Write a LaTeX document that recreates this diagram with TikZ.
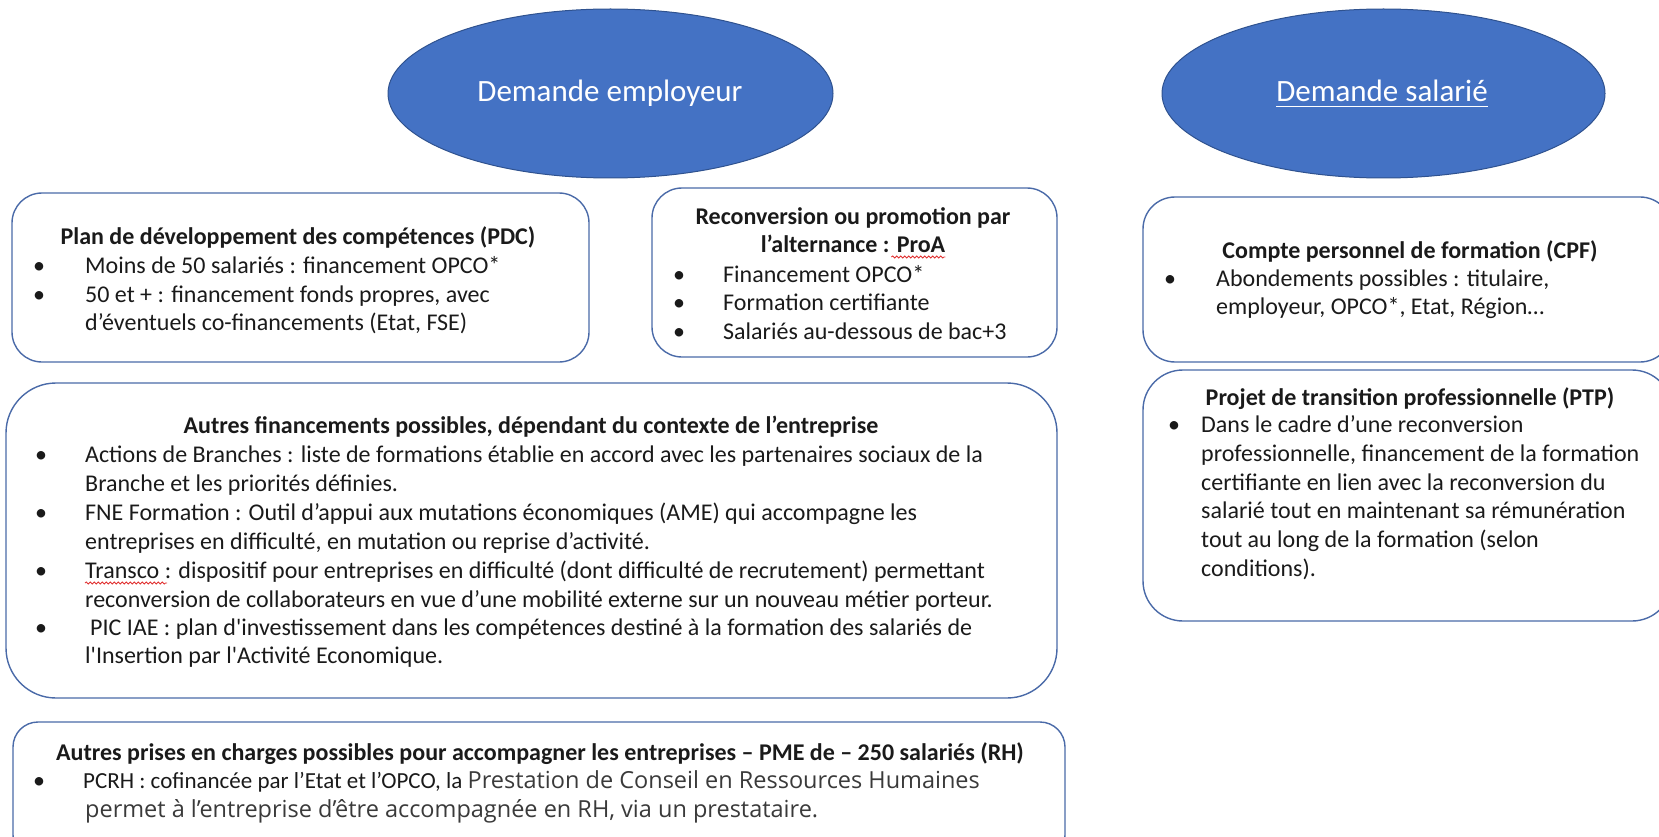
\documentclass[tikz,border=0pt]{standalone}
\usepackage{fontspec}
\usepackage{tikz}
\usetikzlibrary{shapes.geometric,decorations.pathmorphing}
\newfontfamily\calibri{Carlito}
\newfontfamily\segoe{Open Sans}
\definecolor{bleu}{HTML}{4472C4}
\definecolor{bleufonce}{HTML}{2F528F}
\definecolor{bord}{HTML}{4A6AA8}
\definecolor{texte}{HTML}{1A1A1A}
\definecolor{gris}{HTML}{3A3A3A}
\definecolor{souligne}{HTML}{E03030}
\tikzset{
  bulle/.style={ellipse, fill=bleu, draw=bleufonce, line width=1pt, inner sep=0pt},
  cadre/.style={draw=bord, line width=1.4pt, inner sep=0pt},
  etiquette/.style={font=\calibri\fontsize{31}{36}\selectfont, text=white, anchor=base, inner sep=0pt},
  titre/.style={font=\calibri\bfseries\fontsize{24}{29}\selectfont, text=texte, anchor=base, inner sep=0pt},
  ligne/.style={font=\calibri\fontsize{24}{29}\selectfont, text=texte, anchor=base west, inner sep=0pt},
  puce/.style={font=\calibri\fontsize{24}{29}\selectfont, text=texte, anchor=base, inner sep=0pt},
  vague/.style={draw=souligne, line width=0.8pt, decorate, decoration={snake, amplitude=1pt, segment length=4pt}}
}

\begin{document}
\begin{tikzpicture}[x=1pt, y=-1pt]

	\useasboundingbox (0,0) rectangle (1659,837);
	\clip (0,0) rectangle (1659,837);

	% Ellipses
	\node[bulle, minimum width=445pt, minimum height=169pt] (employeur) at (610.5,93.5) {};
	\node[etiquette] (employeur-txt) at (610,102) {Demande employeur};
	\node[bulle, minimum width=443pt, minimum height=169pt] (salarie) at (1383.5,93.5) {};
	\node[etiquette] (salarie-txt) at (1382,102) {Demande salarié};
	\draw[white, line width=1.8pt] ([yshift=-4.5pt]salarie-txt.base west) -- ([yshift=-4.5pt]salarie-txt.base east);

	% Plan de developpement des competences
	\node[cadre, rounded corners=30pt, minimum width=577pt, minimum height=169pt] (pdc) at (300.5,277.5) {};
	\node[titre] (pdc-titre) at (298,244) {Plan de développement des compétences (PDC)};
	\node[puce] (pdc-p1) at (39,273) {•};
	\node[ligne] (pdc-l1) at (85,273) {Moins de 50 salariés : financement OPCO*};
	\node[puce] (pdc-p2) at (39,302) {•};
	\node[ligne] (pdc-l2) at (85,302) {50 et + : financement fonds propres, avec};
	\node[ligne] (pdc-l3) at (85,330) {d’éventuels co-financements (Etat, FSE)};

	% ProA
	\node[cadre, rounded corners=30pt, minimum width=405pt, minimum height=169pt] (proa) at (854.5,272.5) {};
	\node[titre] (proa-titre1) at (853,224) {Reconversion ou promotion par};
	\node[titre] (proa-titre2) at (853,252) {l’alternance : ProA};
	\draw[vague] ([xshift=-54pt,yshift=-5pt]proa-titre2.base east) -- ([yshift=-5pt]proa-titre2.base east);
	\node[puce] (proa-p1) at (679,282) {•};
	\node[ligne] (proa-l1) at (723,282) {Financement OPCO*};
	\node[puce] (proa-p2) at (679,310) {•};
	\node[ligne] (proa-l2) at (723,310) {Formation certifiante};
	\node[puce] (proa-p3) at (679,339) {•};
	\node[ligne] (proa-l3) at (723,339) {Salariés au-dessous de bac+3};

	% Autres financements
	\node[cadre, rounded corners=50pt, minimum width=1051pt, minimum height=315pt] (autres) at (531.5,540.5) {};
	\node[titre] (autres-titre) at (531,433) {Autres financements possibles, dépendant du contexte de l’entreprise};
	\node[puce] (autres-p1) at (41,462) {•};
	\node[ligne] (autres-l1) at (85,462) {Actions de Branches : liste de formations établie en accord avec les partenaires sociaux de la};
	\node[ligne] (autres-l2) at (85,491) {Branche et les priorités définies.};
	\node[puce] (autres-p2) at (41,520) {•};
	\node[ligne] (autres-l3) at (85,520) {FNE Formation : Outil d’appui aux mutations économiques (AME) qui accompagne les};
	\node[ligne] (autres-l4) at (85,549) {entreprises en difficulté, en mutation ou reprise d’activité.};
	\node[puce] (autres-p3) at (41,578) {•};
	\node[ligne] (autres-l5) at (85,578) {Transco : dispositif pour entreprises en difficulté (dont difficulté de recrutement) permettant};
	\draw[vague] ([yshift=-5pt]autres-l5.base west) -- ([xshift=82pt,yshift=-5pt]autres-l5.base west);
	\node[ligne] (autres-l6) at (85,607) {reconversion de collaborateurs en vue d’une mobilité externe sur un nouveau métier porteur.};
	\node[puce] (autres-p4) at (41,635) {•};
	\node[ligne] (autres-l7) at (90,635) {PIC IAE : plan d'investissement dans les compétences destiné à la formation des salariés de};
	\node[ligne] (autres-l8) at (85,663) {l'Insertion par l'Activité Economique.};

	% Autres prises en charge
	\node[cadre, rounded corners=25pt, minimum width=1052pt, minimum height=138pt] (prises) at (539,791) {};
	\node[titre] (prises-titre) at (540,760) {Autres prises en charges possibles pour accompagner les entreprises – PME de – 250 salariés (RH)};
	\node[puce] (prises-p1) at (39,788) {•};
	\node[ligne, font=\calibri\fontsize{23}{28}\selectfont] (prises-l1) at (83,788) {PCRH : cofinancée par l’Etat et l’OPCO, la {\segoe\fontsize{23.5}{28}\selectfont\color{gris}Prestation de Conseil en Ressources Humaines}};
	\node[ligne, font=\segoe\fontsize{23.5}{28}\selectfont, text=gris] (prises-l2) at (85,817) {permet à l’entreprise d’être accompagnée en RH, via un prestataire.};

	% Compte personnel de formation
	\node[cadre, rounded corners=32pt, minimum width=529pt, minimum height=165pt] (cpf) at (1407.5,279.5) {};
	\node[titre] (cpf-titre) at (1410,258) {Compte personnel de formation (CPF)};
	\node[puce] (cpf-p1) at (1170,286) {•};
	\node[ligne] (cpf-l1) at (1216,286) {Abondements possibles : titulaire,};
	\node[ligne] (cpf-l2) at (1216,314) {employeur, OPCO*, Etat, Région…};

	% Projet de transition professionnelle
	\node[cadre, rounded corners=40pt, minimum width=529pt, minimum height=251pt] (ptp) at (1407.5,495.5) {};
	\node[titre] (ptp-titre) at (1410,405) {Projet de transition professionnelle (PTP)};
	\node[puce] (ptp-p1) at (1174,432) {•};
	\node[ligne] (ptp-l1) at (1201,432) {Dans le cadre d’une reconversion};
	\node[ligne] (ptp-l2) at (1201,461) {professionnelle, financement de la formation};
	\node[ligne] (ptp-l3) at (1201,490) {certifiante en lien avec la reconversion du};
	\node[ligne] (ptp-l4) at (1201,518) {salarié tout en maintenant sa rémunération};
	\node[ligne] (ptp-l5) at (1201,547) {tout au long de la formation (selon};
	\node[ligne] (ptp-l6) at (1201,576) {conditions).};

\end{tikzpicture}
\end{document}
